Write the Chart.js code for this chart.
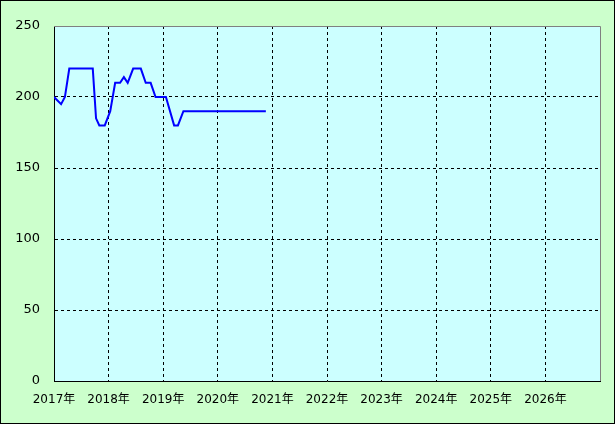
<!DOCTYPE html>
<html>
<head>
<meta charset="utf-8">
<script src="https://cdn.jsdelivr.net/npm/chart.js@4/dist/chart.umd.min.js"></script>
<style>
  html, body { margin: 0; padding: 0; background: #ccffcc; }
  canvas { display: block; }
</style>
</head>
<body>
<canvas id="chart" width="615" height="424"></canvas>
<script>
// time (decimal years) and values
const times = [2017.00, 2017.13, 2017.20, 2017.28, 2017.71, 2017.77, 2017.83, 2017.93,
               2018.03, 2018.12, 2018.21, 2018.28, 2018.35, 2018.45, 2018.59, 2018.68,
               2018.77, 2018.86, 2019.05, 2019.20, 2019.27, 2019.37, 2020.88];
const values = [200, 195, 200, 220, 220, 185, 180, 180,
                190, 210, 210, 214, 210, 220, 220, 210,
                210, 200, 200, 180, 180, 190, 190];
const yearLabels = ["2017年", "2018年", "2019年", "2020年", "2021年",
                    "2022年", "2023年", "2024年", "2025年", "2026年"];
const yTicks = [0, 50, 100, 150, 200, 250];

const FONT = "'DejaVu Sans', 'Noto Sans CJK JP', sans-serif";

// backgrounds + frame
const framePlugin = {
  id: "frame",
  beforeDraw(chart) {
    const c = chart.ctx;
    const a = chart.chartArea;
    c.save();
    c.fillStyle = "#ccffcc";
    c.fillRect(0, 0, chart.width, chart.height);
    c.fillStyle = "#ccffff";
    c.fillRect(a.left, a.top, a.right - a.left, a.bottom - a.top);
    c.restore();
  },
  afterDraw(chart) {
    const c = chart.ctx;
    const a = chart.chartArea;
    c.save();
    c.lineWidth = 1;
    c.strokeStyle = "#808080";
    c.beginPath();
    c.moveTo(a.left, a.top + 0.5);
    c.lineTo(a.right + 0.5, a.top + 0.5);
    c.lineTo(a.right + 0.5, a.bottom);
    c.stroke();
    c.strokeStyle = "#000";
    c.strokeRect(0.5, 0.5, chart.width - 1, chart.height - 1);
    c.restore();
  }
};

function gridColor(min, max) {
  return (ctx) => (ctx.tick && (ctx.tick.value === min || ctx.tick.value === max)) ? "rgba(0,0,0,0)" : "#000";
}

new Chart(document.getElementById("chart"), {
  type: "line",
  data: {
    datasets: [{
      data: times.map((t, i) => ({ x: t, y: values[i] })),
      borderColor: "#0000ff",
      borderWidth: 2,
      pointRadius: 0,
      tension: 0,
      fill: false
    }]
  },
  options: {
    responsive: false,
    animation: false,
    layout: { padding: { left: 0, top: 26, right: 15, bottom: 0 } },
    plugins: { legend: { display: false }, tooltip: { enabled: false } },
    scales: {
      x: {
        type: "linear",
        min: 2017,
        max: 2027,
        afterBuildTicks(scale) {
          scale.ticks = [];
          for (let i = 0; i <= yearLabels.length; i++) scale.ticks.push({ value: 2017 + i });
        },
        afterFit(scale) { scale.height = 424 - 381; },
        ticks: {
          autoSkip: false,
          maxRotation: 0,
          padding: 12,
          color: "#000",
          font: { family: FONT, size: 12 },
          callback: (v) => yearLabels[Math.round(v) - 2017] || ""
        },
        grid: {
          drawTicks: false,
          color: gridColor(2017, 2027),
          lineWidth: 1
        },
        border: { display: true, color: "#000", width: 1, dash: [3, 3] }
      },
      y: {
        min: 0,
        max: 250,
        afterBuildTicks(scale) {
          scale.ticks = yTicks.map(v => ({ value: v }));
        },
        afterFit(scale) { scale.width = 54; },
        ticks: {
          padding: 14,
          color: "#000",
          font: { family: FONT, size: 13 }
        },
        grid: {
          drawTicks: false,
          color: gridColor(0, 250),
          lineWidth: 1
        },
        border: { display: true, color: "#000", width: 1, dash: [3, 3] }
      }
    }
  },
  plugins: [framePlugin]
});
</script>
</body>
</html>
